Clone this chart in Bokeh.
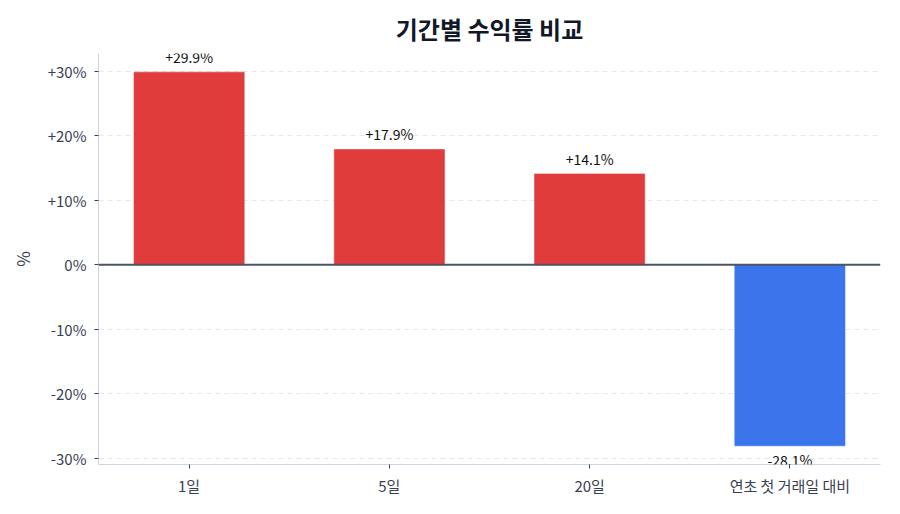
from bokeh.plotting import figure
from bokeh.models import ColumnDataSource, Span, Range1d, FixedTicker, LabelSet
from bokeh.core.properties import value
from bokeh.embed import file_html
from bokeh.resources import INLINE

categories = ["1일", "5일", "20일", "연초 첫 거래일 대비"]
returns = [29.9, 17.9, 14.1, -28.1]
y_ticks = [-30, -20, -10, 0, 10, 20, 30]
y_tick_labels = ["-30%", "-20%", "-10%", "0%", "+10%", "+20%", "+30%"]

FONT = "Noto Sans CJK KR"
RED = "#e03c3c"
BLUE = "#3b74eb"

xs = list(range(len(categories)))
colors = [RED if v >= 0 else BLUE for v in returns]
labels = [("+" if v >= 0 else "") + f"{v:.1f}%" for v in returns]
src = ColumnDataSource(dict(x=xs, top=returns, color=colors, label=labels))
pos = ColumnDataSource(dict(x=[x for x, v in zip(xs, returns) if v >= 0],
                            y=[v for v in returns if v >= 0],
                            label=[l for l, v in zip(labels, returns) if v >= 0]))
neg = ColumnDataSource(dict(x=[x for x, v in zip(xs, returns) if v < 0],
                            y=[v for v in returns if v < 0],
                            label=[l for l, v in zip(labels, returns) if v < 0]))

p = figure(width=884, height=498, output_backend="svg", toolbar_location=None,
           x_range=Range1d(-0.4525, 3.4525), y_range=Range1d(-31.0, 32.8),
           min_border_left=98, min_border_right=4, min_border_top=52, min_border_bottom=33)

p.title.text = "기간별 수익률 비교"
p.title.align = "center"
p.title.text_font = FONT
p.title.text_font_size = "24px"
p.title.text_font_style = "bold"
p.title.text_color = "#111827"
p.title.standoff = 16

p.vbar(x="x", top="top", bottom=0, width=0.55, fill_color="color", line_color="color",
       line_alpha=0.6, source=src)

p.add_layout(Span(location=0, dimension="width", line_color="#4b5563", line_width=2))

p.add_layout(LabelSet(x="x", y="y", text="label", source=pos, text_align="center",
                      text_baseline="bottom", y_offset=5, text_font=value(FONT),
                      text_font_size="14px", text_color="#111111"))
p.add_layout(LabelSet(x="x", y="y", text="label", source=neg, text_align="center",
                      text_baseline="top", y_offset=-4, text_font=value(FONT),
                      text_font_size="14px", text_color="#111111"))

p.xaxis.ticker = FixedTicker(ticks=xs)
p.xaxis.major_label_overrides = {i: c for i, c in zip(xs, categories)}
p.yaxis.ticker = FixedTicker(ticks=y_ticks)
p.yaxis.major_label_overrides = {t: l for t, l in zip(y_ticks, y_tick_labels)}
p.yaxis.axis_label = "%"

for ax in (p.xaxis, p.yaxis):
    ax.axis_line_color = "#cbd5e1"
    ax.axis_line_width = 1
    ax.major_tick_line_color = "#374151"
    ax.major_tick_out = 4
    ax.major_tick_in = 0
    ax.minor_tick_line_color = None
    ax.major_label_text_font = FONT
    ax.major_label_text_font_size = "15px"
    ax.major_label_text_color = "#374151"
    ax.axis_label_text_font = FONT
    ax.axis_label_text_font_size = "17px"
    ax.axis_label_text_font_style = "normal"
    ax.axis_label_text_color = "#374151"
p.yaxis.axis_label_standoff = 10
p.yaxis.major_label_standoff = 8
p.xaxis.major_label_standoff = 6

p.xgrid.grid_line_color = None
p.ygrid.grid_line_color = "#e5e7eb"
p.ygrid.grid_line_dash = "5 4"
p.ygrid.grid_line_width = 1
p.outline_line_color = None
p.background_fill_color = "white"
p.border_fill_color = "white"

open("out.html", "w").write(file_html(p, INLINE))
